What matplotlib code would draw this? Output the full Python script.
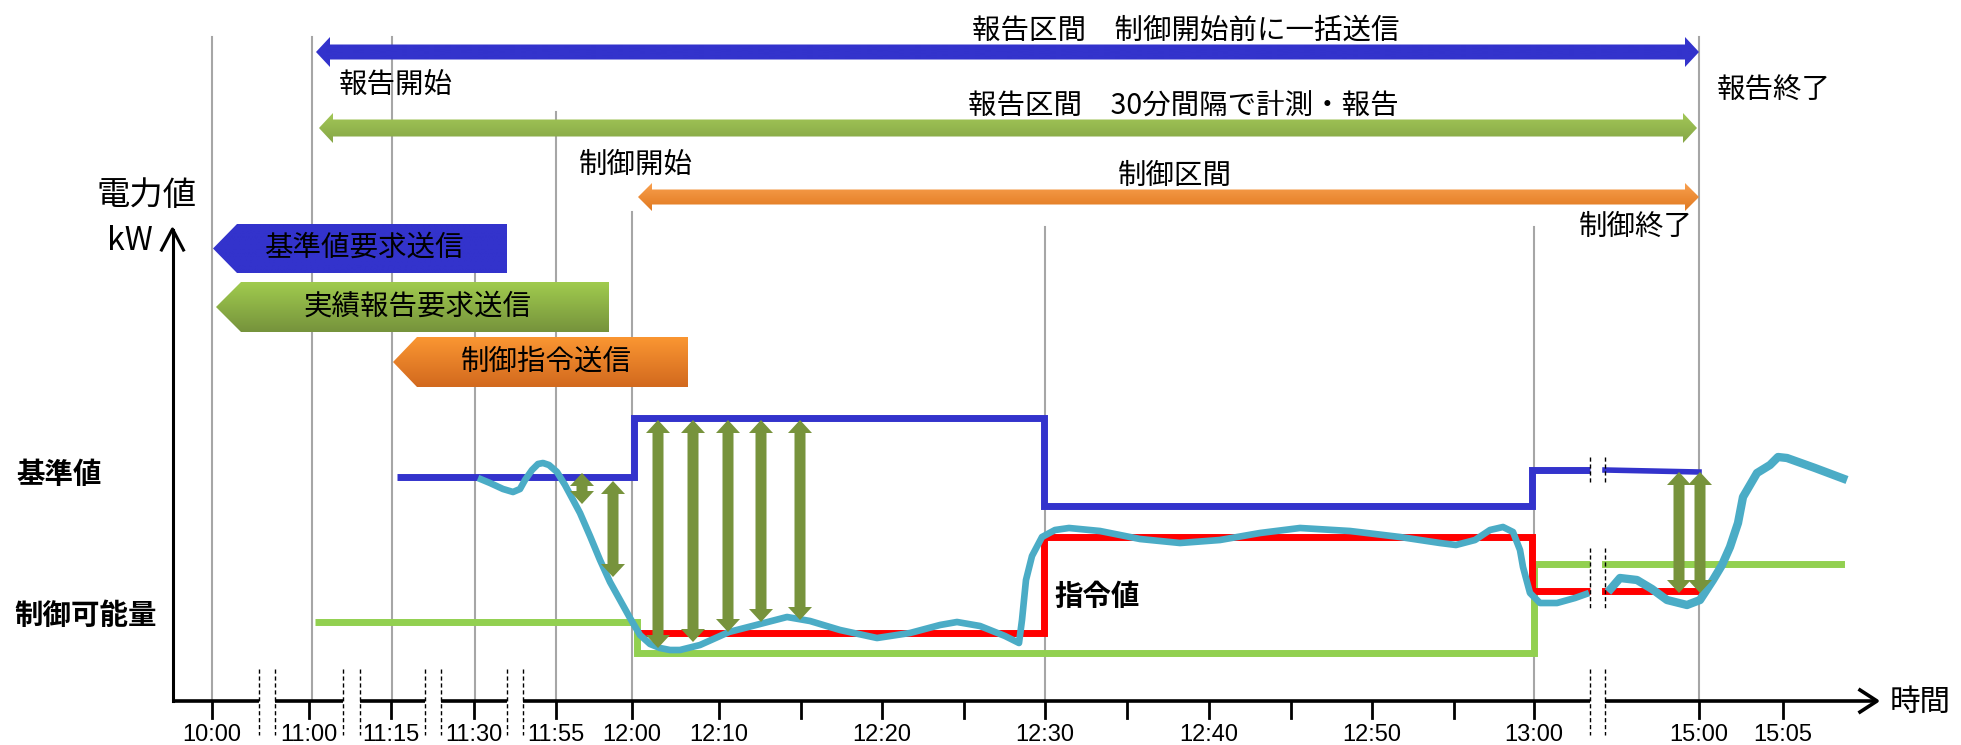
import numpy as np
import matplotlib
matplotlib.use('Agg')
import matplotlib.pyplot as plt
from matplotlib.patches import Polygon
from matplotlib.colors import LinearSegmentedColormap

plt.rcParams['font.family'] = ['Noto Sans CJK JP', 'DejaVu Sans']

# time axis (broken, so every tick carries its own position along the axis)
tick_x = [212, 309, 391, 474, 556, 632, 719, 801, 882, 964, 1045, 1127,
          1209, 1291, 1372, 1454, 1534, 1699, 1783]
tick_labels = ['10:00', '11:00', '11:15', '11:30', '11:55', '12:00', '12:10', '',
               '12:20', '', '12:30', '', '12:40', '', '12:50', '', '13:00',
               '15:00', '15:05']

# event lines: 10:00, 11:00, 11:15, 11:30, 11:55, 12:00, 12:30, 13:00, 15:00
event_x = [212, 312, 392, 475, 556, 632, 1045, 1534, 1699]
event_top = [37, 37, 37, 250, 112, 212, 227, 227, 37]

# axis breaks (left / right dashed line of each break)
break_left = [259, 343, 425, 507, 1590]
break_right = [275, 360, 441, 523, 1605]

# 基準値 (baseline), 指令値 (order), 制御可能量 (capacity) as step levels
base_edges = [397, 634, 1044, 1532, 1590]
base_levels = [477, 418, 506, 470]
base_tail_x = [1605, 1699]
base_tail_y = [470, 472]

order_edges = [637, 1044, 1532, 1590]
order_levels = [633, 537, 591]
order_tail_x = [1605, 1699]
order_tail_y = [591, 591]

capa_edges = [315, 637, 1534, 1590]
capa_levels = [622, 653, 564]
capa_tail_x = [1605, 1841]
capa_tail_y = [564, 564]

# measured demand
actual_x = [478, 490, 503, 513, 520, 525, 532, 538, 543, 549, 557, 565, 572, 580,
            590, 600, 610, 620, 630, 640, 650, 660, 670, 680, 700, 729, 760, 787,
            810, 840, 877, 910, 940, 957, 980, 1005, 1019, 1022, 1026, 1032, 1042,
            1055, 1069, 1100, 1140, 1180, 1220, 1260, 1300, 1350, 1400, 1440, 1456,
            1475, 1490, 1503, 1513, 1520, 1523, 1530, 1540, 1557, 1575, 1589]
actual_y = [478, 483, 489, 492, 489, 480, 470, 464, 463, 465, 472, 485, 498, 513,
            536, 560, 582, 600, 618, 635, 644, 648, 650, 650, 645, 632, 624, 617,
            621, 630, 638, 633, 625, 622, 626, 636, 643, 620, 580, 556, 537,
            530, 528, 531, 539, 543, 540, 533, 528, 531, 537, 543, 545,
            540, 530, 527, 532, 550, 567, 593, 603, 603, 598, 593]
actual2_x = [1608, 1620, 1637, 1652, 1667, 1687, 1700, 1713, 1722, 1730, 1738, 1743,
             1750, 1757, 1770, 1778, 1787, 1815, 1847]
actual2_y = [592, 578, 580, 589, 600, 605, 600, 580, 565, 547, 523, 497,
             485, 473, 465, 457, 458, 468, 480]

# double arrows between baseline and demand
diff_x = [582, 613, 658, 693, 728, 761, 800, 1679, 1700]
diff_top = [473, 481, 420, 420, 420, 420, 420, 472, 472]
diff_bottom = [504, 577, 648, 642, 632, 622, 620, 593, 593]

BLUE = '#3333CC'
RED = '#FF0000'
LGREEN = '#92D050'
CYAN = '#4BACC6'
OLIVE = '#77933C'
GRID = '#A6A6A6'


def fill_poly(ax, verts, top, bottom, z):
    poly = Polygon(verts, closed=True, facecolor='none', edgecolor='none', zorder=z)
    ax.add_patch(poly)
    xs = [v[0] for v in verts]
    ys = [v[1] for v in verts]
    cmap = LinearSegmentedColormap.from_list('fill', [top, bottom])
    grad = np.linspace(0, 1, 64).reshape(-1, 1)
    im = ax.imshow(grad, cmap=cmap, extent=(min(xs), max(xs), max(ys), min(ys)),
                   aspect='auto', zorder=z, interpolation='bilinear')
    im.set_clip_path(poly)


def h_double_arrow(x0, x1, yc, hs, hh, hl):
    return [(x0, yc), (x0 + hl, yc - hh), (x0 + hl, yc - hs), (x1 - hl, yc - hs),
            (x1 - hl, yc - hh), (x1, yc), (x1 - hl, yc + hh), (x1 - hl, yc + hs),
            (x0 + hl, yc + hs), (x0 + hl, yc + hh)]


def v_double_arrow(xc, y0, y1, hs, hh, hl):
    return [(xc, y0), (xc + hh, y0 + hl), (xc + hs, y0 + hl), (xc + hs, y1 - hl),
            (xc + hh, y1 - hl), (xc, y1), (xc - hh, y1 - hl), (xc - hs, y1 - hl),
            (xc - hs, y0 + hl), (xc - hh, y0 + hl)]


def tag(tip, corner, right, top, bottom):
    yc = (top + bottom) / 2
    return [(tip, yc), (corner, top), (right, top), (right, bottom), (corner, bottom)]


fig = plt.figure(figsize=(19.61, 7.45), dpi=100)
ax = fig.add_axes([0, 0, 1, 1])
ax.axis('off')

AXIS_Y = 701
Y_AXIS_X = 172.5

# event lines
for x, t in zip(event_x, event_top):
    ax.plot([x, x], [t, AXIS_Y], color=GRID, lw=1.5, zorder=1)

# x axis, cut at every break
seg_starts = [Y_AXIS_X] + break_right
seg_ends = break_left + [1877]
for a, b in zip(seg_starts, seg_ends):
    ax.plot([a, b], [AXIS_Y, AXIS_Y], color='black', lw=2.6, zorder=5,
            solid_capstyle='butt')
ax.plot([1860, 1877, 1860], [AXIS_Y - 11, AXIS_Y, AXIS_Y + 11], color='black',
        lw=2.6, zorder=5)
for x in tick_x:
    ax.plot([x, x], [AXIS_Y, 718], color='black', lw=2, zorder=5)
for x, lab in zip(tick_x, tick_labels):
    ax.text(x, 735, lab, ha='center', va='center', fontsize=17,
            family='Liberation Sans', color='black')
for xl, xr in zip(break_left, break_right):
    for x in (xl, xr):
        ax.plot([x, x], [669, 735], color='black', lw=1, ls=(0, (3, 2)), zorder=5)
# breaks also cut through the series
for x in (break_left[-1], break_right[-1]):
    ax.plot([x, x], [457, 483], color='black', lw=1, ls=(0, (3, 2)), zorder=6)
    ax.plot([x, x], [548, 608], color='black', lw=1, ls=(0, (3, 2)), zorder=6)

# y axis
ax.plot([Y_AXIS_X, Y_AXIS_X], [AXIS_Y, 230], color='black', lw=2.2, zorder=5)
ax.plot([Y_AXIS_X - 11, Y_AXIS_X, Y_AXIS_X + 11], [250, 229, 250], color='black',
        lw=2.2, zorder=5)
ax.text(197, 195, '電力値', ha='right', va='center', fontsize=24)
ax.text(153, 241, 'kW', ha='right', va='center', fontsize=23)
ax.text(1890, 702, '時間', ha='left', va='center', fontsize=22)

# step series
ax.stairs(capa_levels, capa_edges, baseline=None, color=LGREEN, lw=5, zorder=3)
ax.plot(capa_tail_x, capa_tail_y, color=LGREEN, lw=5, zorder=3)
ax.stairs(order_levels, order_edges, baseline=None, color=RED, lw=5, zorder=3)
ax.plot(order_tail_x, order_tail_y, color=RED, lw=5, zorder=3)
ax.stairs(base_levels, base_edges, baseline=None, color=BLUE, lw=5, zorder=3)
ax.plot(base_tail_x, base_tail_y, color=BLUE, lw=4, zorder=3)

# measured demand
ax.plot(actual_x, actual_y, color=CYAN, lw=4.8, zorder=4, solid_joinstyle='round',
        solid_capstyle='butt')
ax.plot(actual2_x, actual2_y, color=CYAN, lw=6, zorder=4, solid_joinstyle='round',
        solid_capstyle='butt')

for x, t, b in zip(diff_x, diff_top, diff_bottom):
    ax.add_patch(Polygon(v_double_arrow(x, t, b, 5.5, 12, 13), closed=True,
                         facecolor=OLIVE, edgecolor='none', zorder=4.5))

ax.text(16, 475, '基準値', ha='left', va='center', fontsize=20.5, fontweight='bold')
ax.text(14, 616, '制御可能量', ha='left', va='center', fontsize=20.5, fontweight='bold')
ax.text(1054, 597, '指令値', ha='left', va='center', fontsize=20.5, fontweight='bold')

# reporting / control periods
fill_poly(ax, h_double_arrow(316, 1699, 52, 7.5, 15, 14), BLUE, BLUE, 6)
fill_poly(ax, h_double_arrow(319, 1697, 128, 8.5, 15, 14), '#A2C757', '#86A646', 6)
fill_poly(ax, h_double_arrow(638, 1699, 197, 7.5, 14, 14), '#F9A04E', '#E0781F', 6)
ax.text(1186, 31, '報告区間　制御開始前に一括送信', ha='center', va='center',
        fontsize=20.5, zorder=7)
ax.text(1183, 106, '報告区間　30分間隔で計測・報告', ha='center', va='center',
        fontsize=20.5, zorder=7)
ax.text(1175, 176, '制御区間', ha='center', va='center', fontsize=20.5, zorder=7)
ax.text(339, 86, '報告開始', ha='left', va='center', fontsize=20.5, zorder=7)
ax.text(1717, 90, '報告終了', ha='left', va='center', fontsize=20.5, zorder=7)
ax.text(579, 165, '制御開始', ha='left', va='center', fontsize=20.5, zorder=7)
ax.text(1693, 227, '制御終了', ha='right', va='center', fontsize=20.5, zorder=7)

# request tags
fill_poly(ax, tag(213, 237, 507, 224, 273), BLUE, BLUE, 6)
fill_poly(ax, tag(216, 241, 609, 282, 332), '#A0CB4E', '#76933C', 6)
fill_poly(ax, tag(393, 417, 688, 337, 387), '#FA9632', '#D2691E', 6)
ax.text(365, 248, '基準値要求送信', ha='center', va='center', fontsize=20.5, zorder=7)
ax.text(418, 307, '実績報告要求送信', ha='center', va='center', fontsize=20.5, zorder=7)
ax.text(546, 362, '制御指令送信', ha='center', va='center', fontsize=20.5, zorder=7)

ax.set_xlim(0, 1961)
ax.set_ylim(745, 0)
fig.savefig('out.png', dpi=100, facecolor='white')
